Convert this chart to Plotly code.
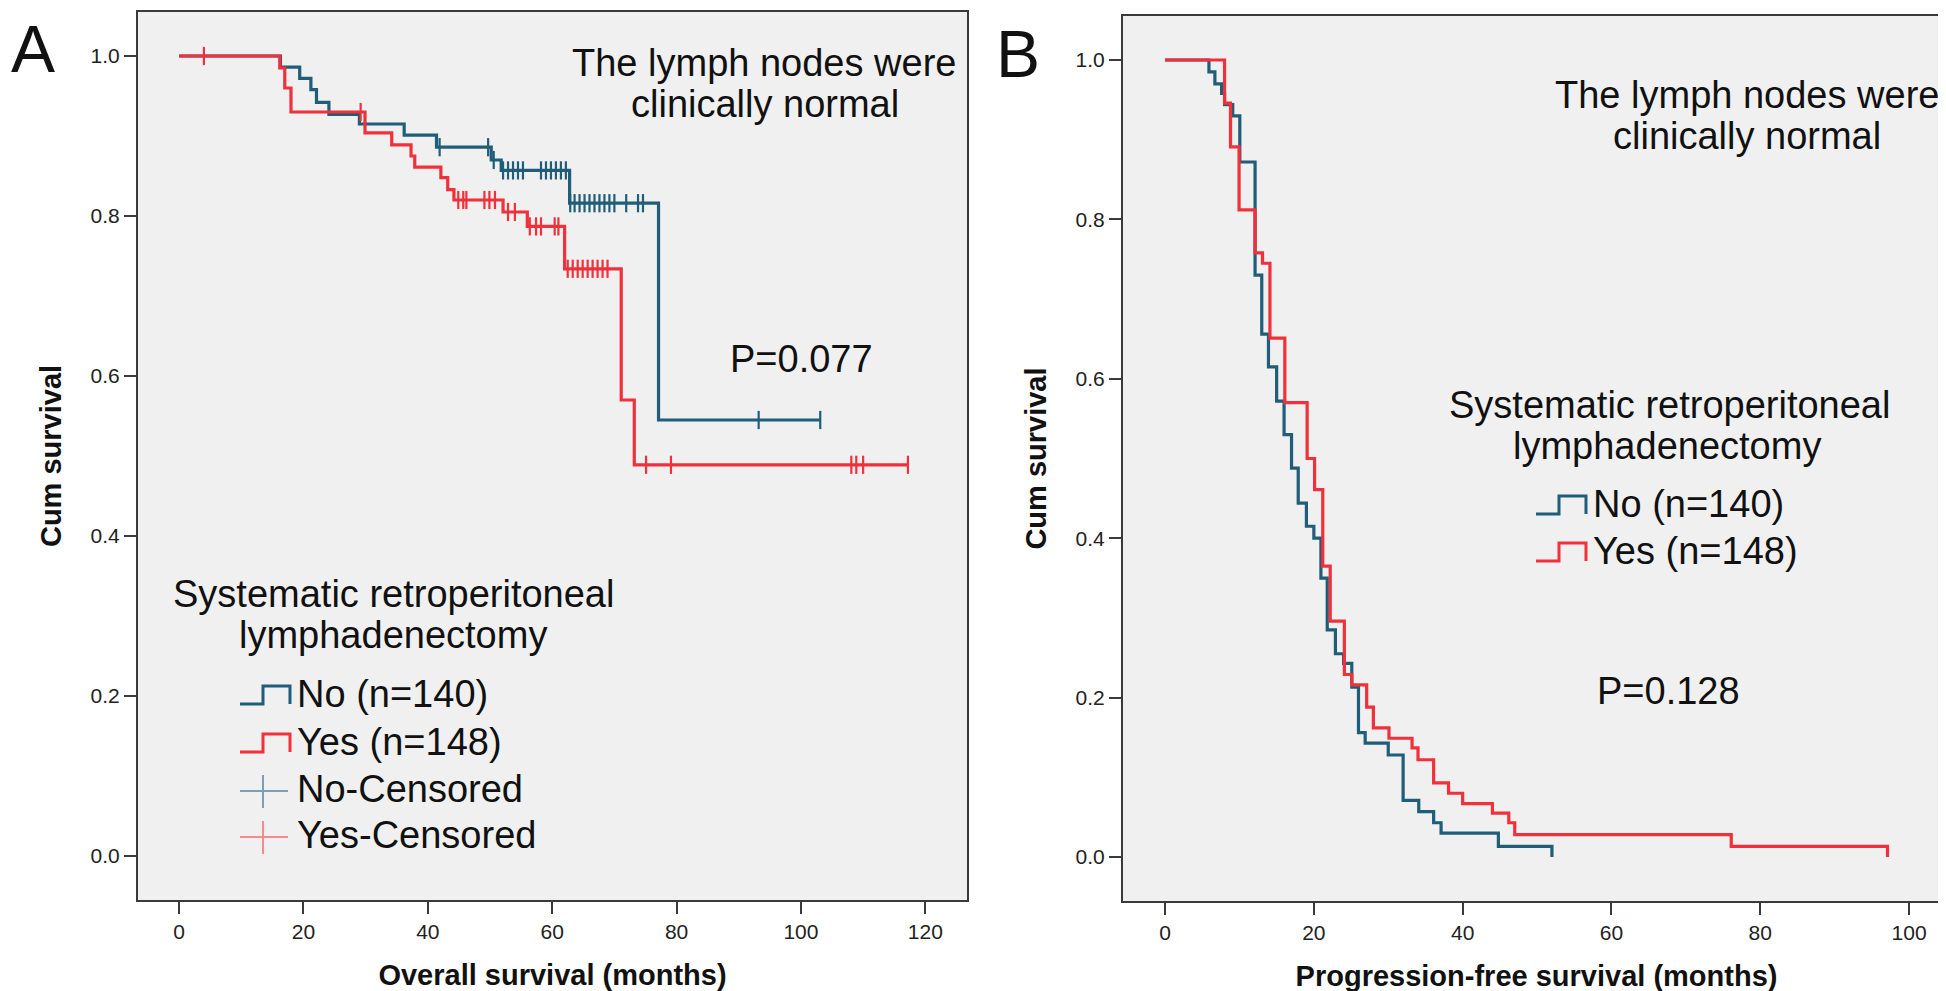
import bisect
import plotly.graph_objects as go

W, H = 1946, 991
BLUE = '#1f5d78'
RED = '#f0303a'
BLUE_LIGHT = '#7f9fb0'
RED_LIGHT = '#f28a90'
FONT = 'Liberation Sans, Arial, sans-serif'

# Panel A: overall survival (step times / survival after step)
os_no_t = [0, 16.3, 19.4, 21.2, 22.1, 24.1, 29.0, 36.2, 41.4, 50.2, 51.8, 62.8, 77.1, 103.1]
os_no_s = [1.0, 0.986, 0.972, 0.958, 0.942, 0.927, 0.915, 0.901, 0.886, 0.870, 0.857, 0.816, 0.545, 0.545]
os_no_cens = [41.9, 49.7, 50.6, 52.1, 52.9, 53.7, 54.5, 55.3, 58.2, 59.0, 59.8, 60.6, 61.4, 62.2,
              62.9, 63.6, 64.4, 65.2, 66.0, 66.8, 67.6, 68.4, 69.2, 70.0, 71.9, 73.8, 74.6, 93.2, 103.1]

os_yes_t = [0, 16.2, 17.0, 18.0, 29.9, 34.2, 37.3, 37.9, 42.1, 43.2, 44.2, 52.1, 56.0, 62.0, 71.1, 73.2, 117.2]
os_yes_s = [1.0, 0.985, 0.960, 0.930, 0.904, 0.889, 0.875, 0.861, 0.848, 0.833, 0.820, 0.805, 0.787, 0.734,
            0.570, 0.489, 0.489]
os_yes_cens = [4.0, 29.2, 44.9, 45.7, 46.2, 49.1, 49.9, 50.8, 52.9, 54.0, 56.4, 57.4, 58.2, 60.4, 61.0,
               62.5, 63.3, 64.1, 64.9, 65.7, 66.5, 67.3, 68.1, 68.9, 75.1, 79.1, 108.1, 108.9, 110.0, 117.2]

# Panel B: progression-free survival
pfs_no_t = [0, 5.9, 6.7, 7.6, 8.0, 9.1, 10.05, 11.1, 12.1, 13.0, 13.9, 15.0, 16.0, 17.0, 17.9, 19.0,
            20.0, 20.95, 21.8, 22.9, 24.0, 25.1, 26.0, 26.9, 30.0, 32.0, 34.1, 36.1, 37.1, 44.8, 52.0]
pfs_no_s = [1.0, 0.985, 0.970, 0.958, 0.944, 0.930, 0.872, 0.872, 0.730, 0.656, 0.615, 0.572, 0.530, 0.488,
            0.444, 0.415, 0.400, 0.350, 0.285, 0.255, 0.243, 0.213, 0.156, 0.143, 0.128, 0.071, 0.057,
            0.043, 0.030, 0.0134, 0.0]

pfs_yes_t = [0, 8.0, 8.8, 9.95, 12.1, 13.1, 14.1, 16.1, 19.1, 20.1, 21.2, 22.2, 24.1, 25.1, 27.1, 28.0,
             30.1, 33.2, 34.0, 36.1, 38.1, 40.0, 44.0, 46.2, 47.0, 76.1, 97.1]
pfs_yes_s = [1.0, 0.946, 0.891, 0.812, 0.758, 0.745, 0.651, 0.570, 0.500, 0.461, 0.365, 0.296, 0.229,
             0.216, 0.188, 0.162, 0.149, 0.137, 0.122, 0.093, 0.080, 0.067, 0.055, 0.043, 0.028, 0.0134, 0.0]

group_labels = ['No (n=140)', 'Yes (n=148)', 'No-Censored', 'Yes-Censored']


def surv_at(times, surv, t):
    i = bisect.bisect_right(times, t) - 1
    return surv[max(i, 0)]


def xp(x):
    return x / W


def yp(y):
    return 1 - y / H


fig = go.Figure()

for t, s, col, xa, ya in [(os_no_t, os_no_s, BLUE, 'x', 'y'), (os_yes_t, os_yes_s, RED, 'x', 'y'),
                          (pfs_no_t, pfs_no_s, BLUE, 'x2', 'y2'), (pfs_yes_t, pfs_yes_s, RED, 'x2', 'y2')]:
    fig.add_trace(go.Scatter(x=t, y=s, mode='lines', line=dict(color=col, width=3.2, shape='hv'),
                             xaxis=xa, yaxis=ya, showlegend=False, hoverinfo='skip'))

for t, s, cens, col in [(os_no_t, os_no_s, os_no_cens, BLUE), (os_yes_t, os_yes_s, os_yes_cens, RED)]:
    fig.add_trace(go.Scatter(x=cens, y=[surv_at(t, s, c) for c in cens], mode='markers',
                             marker=dict(symbol='line-ns', size=13, line=dict(color=col, width=2.2)),
                             xaxis='x', yaxis='y', showlegend=False, hoverinfo='skip'))

ax = dict(showline=True, mirror=True, linecolor='#3a3a3a', linewidth=2, showgrid=False, zeroline=False,
          ticks='outside', ticklen=12, tickwidth=2, tickcolor='#3a3a3a',
          tickfont=dict(family=FONT, size=21, color='#222'))
title_font = dict(family=FONT, size=29, color='#111', weight='bold')

fig.update_layout(
    width=W, height=H, margin=dict(l=0, r=0, t=0, b=0),
    paper_bgcolor='white', plot_bgcolor='#f0f0f0',
    xaxis=dict(ax, domain=[xp(130), xp(959)], range=[-6.6, 126.7], dtick=20, anchor='y',
               title=dict(text='Overall survival (months)', font=title_font, standoff=22)),
    yaxis=dict(ax, domain=[yp(892), yp(4)], range=[-0.055, 1.055], dtick=0.2, tickformat='.1f', anchor='x',
               title=dict(text='Cum survival', font=title_font, standoff=20)),
    xaxis2=dict(ax, domain=[xp(1115), xp(1942)], range=[-5.65, 105.5], dtick=20, anchor='y2',
                title=dict(text='Progression-free survival (months)', font=title_font, standoff=22)),
    yaxis2=dict(ax, domain=[yp(893), yp(8)], range=[-0.0552, 1.0552], dtick=0.2, tickformat='.1f', anchor='x2',
                title=dict(text='Cum survival', font=title_font, standoff=20)),
)

big = dict(family=FONT, size=38, color='#111')
TEXT_SHIFT = 7  # annotation boxes sit a little low compared with the glyphs


def note(text, x, y, size=38, anchor='center'):
    fig.add_annotation(text=text, x=xp(x), y=yp(y - TEXT_SHIFT), xref='paper', yref='paper', showarrow=False,
                       xanchor=anchor, yanchor='middle', font=dict(big, size=size))


def step_icon(xt, ym, col):
    pts = [(xt - 55, ym + 3), (xt - 32, ym + 3), (xt - 32, ym - 15), (xt - 5, ym - 15), (xt - 5, ym + 3)]
    path = 'M ' + ' L '.join(f'{xp(a):.5f},{yp(b):.5f}' for a, b in pts)
    fig.add_shape(type='path', path=path, xref='paper', yref='paper', line=dict(color=col, width=3))


def plus_icon(xt, ym, col):
    for (a, b), (c, d) in [((xt - 55, ym - 5), (xt - 7, ym - 5)), ((xt - 32, ym - 21), (xt - 32, ym + 12))]:
        fig.add_shape(type='line', x0=xp(a), y0=yp(b), x1=xp(c), y1=yp(d), xref='paper', yref='paper',
                      line=dict(color=col, width=2))


# panel letters
note('A', 25, 48, size=66)
note('B', 1010, 53, size=66)

# panel A texts
note('The lymph nodes were', 756, 62)
note('clinically normal', 757, 103)
note('P=0.077', 793, 358)
note('Systematic retroperitoneal', 385, 593)
note('lymphadenectomy', 385, 634)
leg_a_y = [693, 741, 788, 834]
for lab, yy in zip(group_labels, leg_a_y):
    note(lab, 287, yy, anchor='left')
step_icon(287, leg_a_y[0], BLUE)
step_icon(287, leg_a_y[1], RED)
plus_icon(287, leg_a_y[2], BLUE_LIGHT)
plus_icon(287, leg_a_y[3], RED_LIGHT)

# panel B texts
note('The lymph nodes were', 1739, 94)
note('clinically normal', 1739, 135)
note('P=0.128', 1660, 690)
note('Systematic retroperitoneal', 1661, 404)
note('lymphadenectomy', 1659, 445)
leg_b_y = [503, 550]
for lab, yy in zip(group_labels[:2], leg_b_y):
    note(lab, 1583, yy, anchor='left')
step_icon(1583, leg_b_y[0], BLUE)
step_icon(1583, leg_b_y[1], RED)

fig.write_html('out.html')
